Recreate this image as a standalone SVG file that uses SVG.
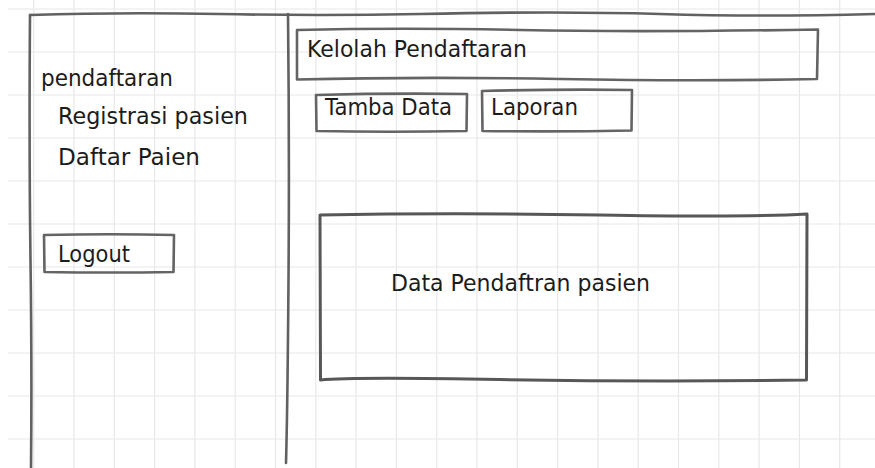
<svg xmlns="http://www.w3.org/2000/svg" width="875" height="468" viewBox="0 0 875 468">
  <style>
    .grid line { stroke: #e8e8e8; stroke-width: 1.2; }
    .frame { fill: none; stroke: #616161; stroke-width: 2.6; stroke-linecap: round; stroke-linejoin: round; }
    .box { fill: none; stroke: #646464; stroke-width: 2.6; stroke-linejoin: round; }
    .panel { fill: none; stroke: #575757; stroke-width: 3; stroke-linejoin: round; }
    .lbl { font-family: "DejaVu Sans", "Liberation Sans", sans-serif; font-size: 23px; fill: #1c1c1c; }
  </style>

  <rect width="875" height="468" fill="#ffffff"/>

  <!-- background sketch grid -->
  <g class="grid">
    <line x1="33.7" y1="0" x2="33.7" y2="468"/>
    <line x1="74" y1="0" x2="74" y2="468"/>
    <line x1="114.3" y1="0" x2="114.3" y2="468"/>
    <line x1="154.6" y1="0" x2="154.6" y2="468"/>
    <line x1="194.9" y1="0" x2="194.9" y2="468"/>
    <line x1="235.2" y1="0" x2="235.2" y2="468"/>
    <line x1="275.5" y1="0" x2="275.5" y2="468"/>
    <line x1="315.8" y1="0" x2="315.8" y2="468"/>
    <line x1="356.1" y1="0" x2="356.1" y2="468"/>
    <line x1="396.4" y1="0" x2="396.4" y2="468"/>
    <line x1="436.7" y1="0" x2="436.7" y2="468"/>
    <line x1="477" y1="0" x2="477" y2="468"/>
    <line x1="517.3" y1="0" x2="517.3" y2="468"/>
    <line x1="557.6" y1="0" x2="557.6" y2="468"/>
    <line x1="597.9" y1="0" x2="597.9" y2="468"/>
    <line x1="638.2" y1="0" x2="638.2" y2="468"/>
    <line x1="678.5" y1="0" x2="678.5" y2="468"/>
    <line x1="718.8" y1="0" x2="718.8" y2="468"/>
    <line x1="759.1" y1="0" x2="759.1" y2="468"/>
    <line x1="799.4" y1="0" x2="799.4" y2="468"/>
    <line x1="839.7" y1="0" x2="839.7" y2="468"/>
    <line x1="8" y1="9" x2="875" y2="9"/>
    <line x1="8" y1="52" x2="875" y2="52"/>
    <line x1="8" y1="95" x2="875" y2="95"/>
    <line x1="8" y1="138" x2="875" y2="138"/>
    <line x1="8" y1="181" x2="875" y2="181"/>
    <line x1="8" y1="224" x2="875" y2="224"/>
    <line x1="8" y1="267" x2="875" y2="267"/>
    <line x1="8" y1="310" x2="875" y2="310"/>
    <line x1="8" y1="353" x2="875" y2="353"/>
    <line x1="8" y1="396" x2="875" y2="396"/>
    <line x1="8" y1="439" x2="875" y2="439"/>
  </g>

  <!-- window frame: top edge, left edge, sidebar divider -->
  <g id="frame">
    <path class="frame" d="M30,15 Q120,12 220,14 T420,14 Q560,11 660,14 T875,14"/>
    <path class="frame" d="M30,15 Q29,150 30.5,260 T31,468"/>
    <path class="frame" d="M288,14 Q289.5,150 288.5,280 T286,463"/>
  </g>

  <!-- sidebar menu -->
  <g id="nav-title">
    <text class="lbl" x="41" y="86" textLength="132" lengthAdjust="spacingAndGlyphs">pendaftaran</text>
  </g>
  <g id="nav-registrasi">
    <text class="lbl" x="58" y="124" textLength="190" lengthAdjust="spacingAndGlyphs">Registrasi pasien</text>
  </g>
  <g id="nav-daftar">
    <text class="lbl" x="58" y="165" textLength="142" lengthAdjust="spacingAndGlyphs">Daftar Paien</text>
  </g>
  <g id="btn-logout">
    <path class="box" d="M44,235 Q110,233.5 174,235 L173.5,272 Q110,273 44.5,272 Z"/>
    <text class="lbl" x="58" y="262" textLength="72" lengthAdjust="spacingAndGlyphs">Logout</text>
  </g>

  <!-- content area -->
  <g id="header-kelolah">
    <path class="box" d="M297,30 Q400,27.5 520,30 T818,29.5 L817,79 Q700,81.5 560,79 T297,79.5 Z"/>
    <text class="lbl" x="307" y="57" textLength="220" lengthAdjust="spacingAndGlyphs">Kelolah Pendaftaran</text>
  </g>
  <g id="btn-tamba">
    <path class="box" d="M316,95 Q390,93 467,94 L466.5,131 Q390,132.5 316.5,131 Z"/>
    <text class="lbl" x="325" y="115" textLength="127" lengthAdjust="spacingAndGlyphs">Tamba Data</text>
  </g>
  <g id="btn-laporan">
    <path class="box" d="M482,91 Q560,89 632,90 L631.5,130.5 Q560,132 482.5,131 Z"/>
    <text class="lbl" x="491" y="115" textLength="87" lengthAdjust="spacingAndGlyphs">Laporan</text>
  </g>
  <g id="panel-data">
    <path class="panel" d="M320,215 Q450,212.5 600,215 T807,214 L806.5,380 Q650,382 500,379.5 T320.5,380 Z"/>
    <text class="lbl" x="391" y="291" textLength="259" lengthAdjust="spacingAndGlyphs">Data Pendaftran pasien</text>
  </g>
</svg>
